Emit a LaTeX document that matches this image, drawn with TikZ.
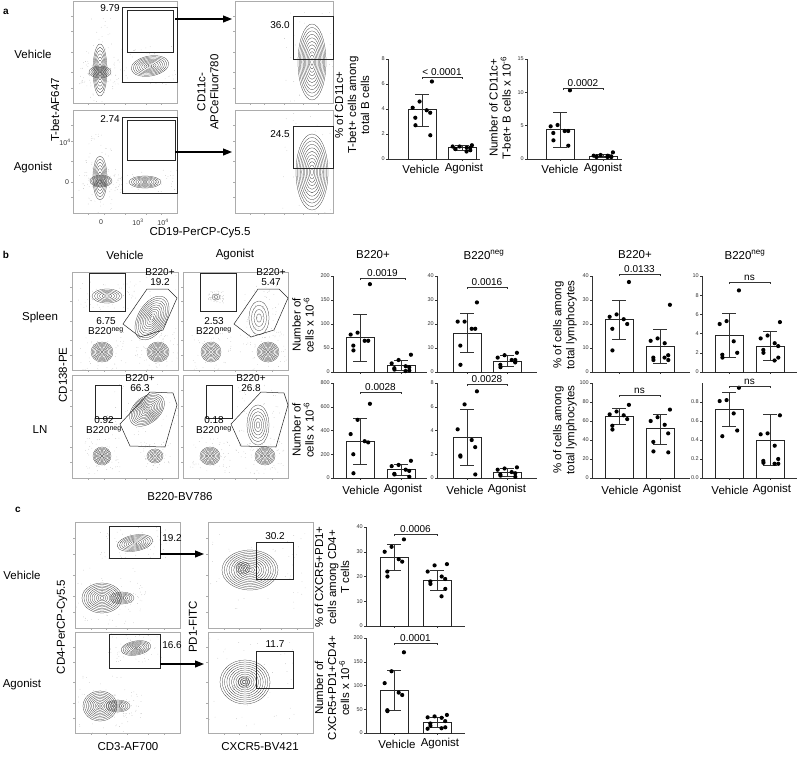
\documentclass[tikz,border=0pt]{standalone}
\usepackage{fontspec}
\setmainfont{Liberation Sans}
\usetikzlibrary{arrows.meta}

\tikzset{
  frame/.style={draw=gray!65, line width=0.4pt},
  gatebox/.style={draw=gray!30!black, line width=0.5pt},
  contour/.style={draw=gray!35!black, line width=0.25pt},
  speck/.style={gray!55},
  lbl/.style={font=\fontsize{11.5}{13}\selectfont, align=center, inner sep=1pt},
  num/.style={font=\fontsize{10}{10.5}\selectfont, inner sep=0.5pt},
  tick/.style={font=\fontsize{5.5}{6}\selectfont, text=gray!40!black, inner sep=1pt},
  axisline/.style={draw=gray!40!black, line width=0.45pt},
  barline/.style={draw=gray!30!black, line width=0.6pt, fill=white},
  gateflow/.style={-{Triangle[length=9pt,width=7pt]}, line width=1.1pt},
}

% x, y, rx, ry, levels, rotation
\newcommand{\blob}[6]{%
  \foreach \k in {1,...,#5}
    \draw[contour] (#1,#2) ellipse[x radius={#3*\k/#5}, y radius={#4*\k/#5}, rotate=#6];
  \foreach \k in {1,...,60}
    \fill[speck] ({#1+2*#3*rand},{#2+2*#4*rand}) circle (0.35);
}
% x1, y1, x2, y2, content
\newcommand{\fplot}[5]{%
  \begin{scope}
    \clip (#1,#2) rectangle (#3,#4);
    #5
  \end{scope}
  \draw[frame] (#1,#2) rectangle (#3,#4);
  \foreach \f in {0.15,0.3,0.5,0.7,0.85} {
    \draw[frame] ({#1+\f*(#3-#1)},#4) -- ++(0,2);
    \draw[frame] (#1,{#4-\f*(#4-#2)}) -- ++(-2,0);
  }
}
% height, ymax, tick list, width
\newcommand{\yaxis}[4]{%
  \pgfmathsetmacro\sc{#1/#2}
  \draw[axisline] (0,-#1) -- (0,0) -- (#4,0);
  \foreach \t in {#3}
    \draw[axisline] (0,{-\t*\sc}) -- (-2,{-\t*\sc}) node[tick,left] {\t};
}
% centre, mean, upper, lower, points
\newcommand{\grp}[5]{%
  \draw[barline] ({#1-14},0) rectangle ({#1+14},{-#2*\sc});
  \draw[axisline] (#1,0) -- (#1,2);
  \draw[axisline] (#1,{-#4*\sc}) -- (#1,{-#3*\sc});
  \draw[axisline] ({#1-7},{-#4*\sc}) -- ({#1+7},{-#4*\sc});
  \draw[axisline] ({#1-7},{-#3*\sc}) -- ({#1+7},{-#3*\sc});
  \foreach \v [count=\i] in {#5}
    \fill ({#1+10*sin(\i*97)},{-\v*\sc}) circle (2.1);
}
% x1, x2, y, text
\newcommand{\sig}[4]{%
  \draw[axisline] (#1,#3+2) -- (#1,#3) -- (#2,#3) -- (#2,#3+2);
  \node[num, above=1pt] at ({(#1+#2)/2},#3) {#4};
}

\begin{document}
\begin{tikzpicture}[x=1pt, y=-1pt]
  \useasboundingbox (0,0) rectangle (798,756);
  \pgfmathsetseed{7}

  % panel a
  \node[font=\bfseries\fontsize{10}{11}\selectfont] (tagA) at (6,12) {a};
  \node[lbl] (vehA) at (33,54) {Vehicle};
  \node[lbl] (agoA) at (33,168) {Agonist};
  \fplot{73}{1}{177}{103}{
    \blob{100}{70}{7}{26}{8}{0} \blob{100}{72}{11}{6}{6}{0} \blob{150}{66}{19}{10}{9}{10}
  }
  \fplot{73}{110}{177}{213}{
    \blob{100}{178}{7}{22}{7}{0} \blob{101}{181}{11}{6}{7}{0} \blob{145}{182}{16}{6}{7}{0}
  }
  \draw[gatebox] (122,7) rectangle (177,82);
  \draw[gatebox] (127,10) rectangle (173,52);
  \draw[gatebox] (122,117) rectangle (177,193);
  \draw[gatebox] (127,120) rectangle (175,160);
  \node[num] (pA1) at (110,8) {9.79};
  \node[num] (pA2) at (110,119) {2.74};
  \node[tick, font=\fontsize{7}{7}\selectfont] (yA1) at (65,142) {10\textsuperscript{4}};
  \node[tick, font=\fontsize{7}{7}\selectfont] (yA2) at (67,182) {0};
  \node[tick, font=\fontsize{7}{7}\selectfont] (xA1) at (101,222) {0};
  \node[tick, font=\fontsize{7}{7}\selectfont] (xA2) at (138,222) {10\textsuperscript{3}};
  \node[tick, font=\fontsize{7}{7}\selectfont] (xA3) at (163,222) {10\textsuperscript{4}};
  \node[lbl, rotate=90] (tbet) at (55,110) {T-bet-AF647};
  \node[lbl] (cd19) at (200,233) {CD19-PerCP-Cy5.5};
  \node[lbl, rotate=90] (cd11c) at (208,92) {CD11c-\\APCeFluor780};
  \fplot{235}{1}{333}{103}{
    \blob{312}{62}{14}{38}{11}{0}
  }
  \fplot{235}{110}{333}{213}{
    \blob{312}{172}{16}{38}{11}{0}
  }
  \draw[gatebox] (293,16) rectangle (333,59);
  \draw[gatebox] (293,126) rectangle (333,168);
  \node[num] (pA3) at (280,25) {36.0};
  \node[num] (pA4) at (280,134) {24.5};
  \coordinate (gA1) at (175,19);  \coordinate (gA3) at (232,19);
  \coordinate (gA2) at (175,152); \coordinate (gA4) at (232,152);
  \draw[gateflow] (gA1) -- (gA3);
  \draw[gateflow] (gA2) -- (gA4);

  \begin{scope}[shift={(388,159)}]
    \yaxis{100}{8}{0,2,4,6,8}{92}
    \grp{34}{3.95}{5.2}{2.65}{6.2,4.6,4.1,3.9,3.7,3.3,2.7,1.9}
    \grp{74}{0.9}{1.1}{0.7}{1.1,1.0,1.0,0.9,0.9,0.8,0.8,0.7,0.6}
    \sig{34}{74}{-82}{< 0.0001}
  \end{scope}
  \begin{scope}[shift={(527,159)}]
    \yaxis{100}{15}{0,5,10,15}{95}
    \grp{33}{4.4}{7}{1.8}{10.3,5.1,4.9,4.2,4.2,3.9,2.8,2.0}
    \grp{76}{0.45}{0.7}{0.2}{1.0,0.6,0.5,0.5,0.4,0.4,0.3,0.3,0.3}
    \sig{36}{76}{-71}{0.0002}
  \end{scope}
  \node[lbl, rotate=90] (pctA) at (352,105) {\% of CD11c+\\T-bet+ cells among\\total B cells};
  \node[lbl, rotate=90] (numA) at (500,108) {Number of CD11c+\\T-bet+ B cells x 10\textsuperscript{-6}};
  \foreach \x/\n in {388/1,527/2} {
    \node[lbl] (vA\n) at (\x+33,169) {Vehicle};
    \node[lbl] (aA\n) at (\x+76,169) {Agonist};
  }

  % panel b
  \node[font=\bfseries\fontsize{10}{11}\selectfont] (tagB) at (6,255) {b};
  \node[lbl] (vehB) at (125,255) {Vehicle};
  \node[lbl] (agoB) at (235,255) {Agonist};
  \node[lbl] (spl) at (40,318) {Spleen};
  \node[lbl] (ln) at (40,430) {LN};
  \node[lbl, rotate=90] (cd138) at (63,375) {CD138-PE};
  \node[lbl] (b220) at (180,497) {B220-BV786};
  \fplot{72}{272}{178}{370}{
    \blob{102}{352}{11}{10}{9}{0} \blob{158}{352}{11}{10}{9}{0}
    \blob{107}{296}{15}{7}{6}{0} \blob{152}{318}{14}{24}{10}{-30}
  }
  \fplot{183}{272}{288}{370}{
    \blob{211}{352}{10}{10}{8}{0} \blob{268}{352}{11}{10}{9}{0}
    \blob{216}{297}{4}{3}{2}{0} \blob{259}{318}{10}{17}{4}{0}
  }
  \fplot{72}{375}{178}{478}{
    \blob{102}{456}{9}{9}{8}{0} \blob{155}{456}{8}{7}{6}{0}
    \blob{147}{410}{20}{13}{11}{40}
  }
  \fplot{183}{375}{288}{478}{
    \blob{210}{456}{10}{9}{8}{0} \blob{265}{456}{10}{9}{8}{0}
    \blob{258}{425}{11}{20}{6}{0}
  }
  \foreach \dx/\n in {0/1,111/2} {
    \draw[gatebox] (89+\dx,273) rectangle (125+\dx,311);
    \draw[gatebox] (123+\dx,324) -- (147+\dx,289) -- (168+\dx,289)
      -- (177+\dx,298) -- (163+\dx,330) -- (140+\dx,337) -- cycle;
    \draw[gatebox] (95+\dx,385) rectangle (121+\dx,418);
    \draw[gatebox] (120+\dx,424) -- (150+\dx,392) -- (173+\dx,393)
      -- (177+\dx,405) -- (165+\dx,447) -- (130+\dx,446) -- cycle;
  }
  \node[num, align=center] (pB1) at (160,277) {B220+\\19.2};
  \node[num, align=center] (pB2) at (271,277) {B220+\\5.47};
  \node[num, align=center] (nB1) at (106,326) {6.75\\B220\textsuperscript{neg}};
  \node[num, align=center] (nB2) at (214,326) {2.53\\B220\textsuperscript{neg}};
  \node[num, align=center] (pB3) at (140,383) {B220+\\66.3};
  \node[num, align=center] (pB4) at (251,383) {B220+\\26.8};
  \node[num, align=center] (nB3) at (104,425) {0.92\\B220\textsuperscript{neg}};
  \node[num, align=center] (nB4) at (214,425) {0.18\\B220\textsuperscript{neg}};

  \node[lbl] (tB1) at (373,255) {B220+};
  \node[lbl] (tB2) at (484,255) {B220\textsuperscript{neg}};
  \node[lbl] (tB3) at (635,255) {B220+};
  \node[lbl] (tB4) at (745,255) {B220\textsuperscript{neg}};
  \node[lbl, rotate=90] (numB1) at (303,325) {Number of\\cells x 10\textsuperscript{-6}};
  \node[lbl, rotate=90] (numB2) at (303,430) {Number of\\cells x 10\textsuperscript{-6}};
  \node[lbl, rotate=90] (pctB1) at (565,325) {\% of cells among\\total lymphocytes};
  \node[lbl, rotate=90] (pctB2) at (565,430) {\% of cells among\\total lymphocytes};

  \begin{scope}[shift={(333,372)}]
    \yaxis{96}{200}{0,50,100,150,200}{94}
    \grp{27}{72}{120}{23}{183,82,78,65,65,55,45}
    \grp{68}{13}{24}{3}{36,25,18,12,10,8,5,3,2}
    \sig{27}{72}{-94}{0.0019}
  \end{scope}
  \begin{scope}[shift={(437,372)}]
    \yaxis{96}{40}{0,10,20,30,40}{100}
    \grp{30}{16.2}{24.3}{8.2}{29,21,21,18,18,11,3}
    \grp{70}{4.6}{7}{2.5}{8,7,6,5,4,3,2,5}
    \sig{30}{70}{-85}{0.0016}
  \end{scope}
  \begin{scope}[shift={(592,372)}]
    \yaxis{96}{40}{0,10,20,30,40}{98}
    \grp{27}{21.8}{30}{13.7}{37.5,24,23,22,20,18,9}
    \grp{68}{10.9}{17.8}{3.8}{28,14,13,12,7,6,5,5,6}
    \sig{27}{68}{-98}{0.0133}
  \end{scope}
  \begin{scope}[shift={(702,372)}]
    \yaxis{96}{10}{0,2,4,6,8,10}{95}
    \grp{27}{3.8}{6.1}{1.5}{8.5,5.3,5.0,3.2,2,1.8,1.5}
    \grp{68}{2.7}{4.2}{1.2}{5.2,3.8,3.5,3,2.7,2.3,2,1.5,1.2}
    \sig{27}{68}{-90}{ns}
  \end{scope}
  \begin{scope}[shift={(333,478)}]
    \yaxis{95}{800}{0,200,400,600,800}{94}
    \grp{27}{305}{505}{115}{625,490,370,310,300,200,40}
    \grp{68}{70}{115}{20}{145,110,100,70,60,35,30,10}
    \sig{27}{68}{-86}{0.0028}
  \end{scope}
  \begin{scope}[shift={(437,478)}]
    \yaxis{95}{8}{0,2,4,6,8}{100}
    \grp{30}{3.4}{5.8}{1.1}{7.3,6.2,4.1,3.2,2.6,1.9,1.8,0.3}
    \grp{70}{0.45}{0.8}{0.15}{0.9,0.8,0.7,0.5,0.4,0.3,0.2,0.1}
    \sig{30}{70}{-94}{0.0028}
  \end{scope}
  \begin{scope}[shift={(592,478)}]
    \yaxis{95}{100}{0,20,40,60,80,100}{98}
    \grp{27}{65}{73}{57}{77,70,67,66,62,55,51}
    \grp{68}{52}{67}{36}{72,64,60,56,47,38,28,27}
    \sig{27}{68}{-83}{ns}
  \end{scope}
  \begin{scope}[shift={(702,478)}]
    \yaxis{95}{1}{0.0,0.2,0.4,0.6,0.8}{95}
    \grp{27}{0.72}{0.9}{0.54}{0.95,0.82,0.81,0.68,0.5,0.44}
    \grp{68}{0.40}{0.67}{0.13}{0.66,0.47,0.46,0.34,0.2,0.18,0.16,0.15,0.15}
    \sig{27}{68}{-92}{ns}
  \end{scope}
  \foreach \x/\n in {333/1,437/2,592/3,702/4} {
    \node[lbl] (vB\n) at (\x+28,490) {Vehicle};
    \node[lbl] (aB\n) at (\x+70,490) {Agonist};
  }

  % panel c
  \node[font=\bfseries\fontsize{10}{11}\selectfont] (tagC) at (18,510) {c};
  \node[lbl] (vehC) at (22,575) {Vehicle};
  \node[lbl] (agoC) at (22,685) {Agonist};
  \node[lbl, rotate=90] (cd4) at (62,627) {CD4-PerCP-Cy5.5};
  \node[lbl, rotate=90] (pd1) at (193,627) {PD1-FITC};
  \node[lbl] (cd3) at (128,747) {CD3-AF700};
  \node[lbl] (cxcr5) at (260,747) {CXCR5-BV421};
  \fplot{75}{522}{180}{628}{
    \blob{135}{543}{18}{8}{8}{10} \blob{102}{598}{20}{15}{10}{0} \blob{122}{598}{12}{6}{6}{0}
  }
  \fplot{75}{632}{180}{733}{
    \blob{136}{648}{15}{7}{8}{10} \blob{100}{706}{17}{15}{10}{0} \blob{118}{706}{12}{6}{6}{0}
  }
  \fplot{208}{522}{313}{628}{
    \blob{250}{570}{28}{20}{12}{0} \blob{243}{568}{7}{6}{4}{0}
  }
  \fplot{208}{632}{313}{733}{
    \blob{245}{682}{25}{22}{11}{0} \blob{244}{682}{6}{5}{3}{0}
  }
  \draw[gatebox] (109,526) rectangle (160,558);
  \draw[gatebox] (109,634) rectangle (160,668);
  \draw[gatebox] (256,542) rectangle (293,579);
  \draw[gatebox] (256,651) rectangle (293,688);
  \node[num] (pC1) at (172,538) {19.2};
  \node[num] (pC2) at (172,645) {16.6};
  \node[num] (pC3) at (275,536) {30.2};
  \node[num] (pC4) at (275,644) {11.7};
  \coordinate (gC1) at (160,554); \coordinate (gC3) at (204,554);
  \coordinate (gC2) at (160,664); \coordinate (gC4) at (204,664);
  \draw[gateflow] (gC1) -- (gC3);
  \draw[gateflow] (gC2) -- (gC4);

  \begin{scope}[shift={(366,626)}]
    \yaxis{99}{40}{0,10,20,30,40}{99}
    \grp{28}{27.8}{33}{22.5}{35,32,30,27,26,22,20}
    \grp{71}{18.5}{22.4}{14.5}{25,24.5,22,20,19,18,17,15,12}
    \sig{28}{71}{-92}{0.0006}
  \end{scope}
  \begin{scope}[shift={(366,733)}]
    \yaxis{95}{200}{0,50,100,150,200}{99}
    \grp{28}{90}{132}{48}{170,130,105,85,80,48,46}
    \grp{71}{22}{33}{12}{38,35,33,32,25,20,15,12,10,9}
    \sig{28}{71}{-90}{0.0001}
  \end{scope}
  \node[lbl, rotate=90] (pctC) at (332,577) {\% of CXCR5+PD1+\\cells among CD4+\\T cells};
  \node[lbl, rotate=90] (numC) at (332,688) {Number of\\CXCR5+PD1+CD4+\\cells x 10\textsuperscript{-6}};
  \node[lbl] (vC) at (397,744) {Vehicle};
  \node[lbl] (aC) at (440,744) {Agonist};
\end{tikzpicture}
\end{document}
